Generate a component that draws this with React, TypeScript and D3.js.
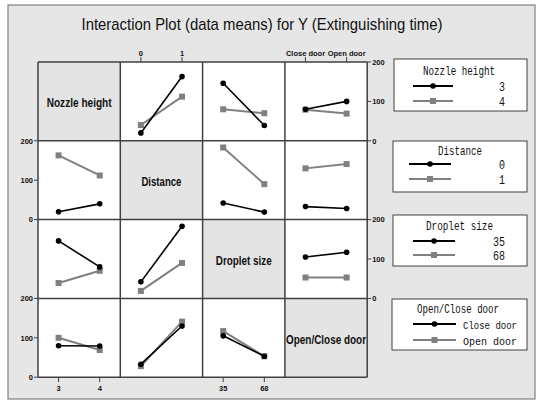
import React from "react";
import * as d3 from "d3";

const factorNames = ["Nozzle height", "Distance", "Droplet size", "Open/Close door"];
const nozzleLevels = ["3", "4"];
const distanceLevels = ["0", "1"];
const dropletLevels = ["35", "68"];
const doorLevels = ["Close door", "Open door"];
const doorLegendLabels = ["Close door", "Open  door"];

// means[a][b]: a = level of first factor, b = level of second factor
const nozzleByDistance = [[20, 163], [40, 112]];
const nozzleByDroplet = [[146, 39], [80, 70]];
const nozzleByDoor = [[80, 100], [79, 69]];
const distanceByDroplet = [[42, 19], [183, 90]];
const distanceByDoor = [[33, 28], [130, 141]];
const dropletByDoor = [[105, 117], [53, 53]];

const yTicks = [0, 100, 200];
const title = "Interaction Plot (data means) for Y (Extinguishing time)";

const levels = [nozzleLevels, distanceLevels, dropletLevels, doorLevels];
const legendLabels = [nozzleLevels, distanceLevels, dropletLevels, doorLegendLabels];
const pairs: Record<string, number[][]> = {
  "0-1": nozzleByDistance,
  "0-2": nozzleByDroplet,
  "0-3": nozzleByDoor,
  "1-2": distanceByDroplet,
  "1-3": distanceByDoor,
  "2-3": dropletByDoor,
};

function meanOf(i: number, j: number, a: number, b: number) {
  if (i < j) return pairs[`${i}-${j}`][a][b];
  return pairs[`${j}-${i}`][b][a];
}

const W = 538;
const H = 401;
const gridLeft = 38;
const gridTop = 62;
const cellW = 82.3;
const cellH = 78.8;
const BLACK = "#000";
const GRAY = "#808080";
const GRID = "#404040";

const panelLabelWidths = [65, 40, 56, 80];

const legends = [
  { x: 394, y: 59, w: 133, h: 52, titleX: 459, titleY: 75, titleW: 72, lineX: [413, 453], rows: [86, 101], labelX: 505, labelAnchor: "end" },
  { x: 393, y: 141, w: 134, h: 51, titleX: 460, titleY: 155, titleW: 44, lineX: [409, 451], rows: [164, 179], labelX: 505, labelAnchor: "end" },
  { x: 393, y: 215, w: 134, h: 51, titleX: 459.5, titleY: 230, titleW: 67, lineX: [413, 455], rows: [241, 255], labelX: 505, labelAnchor: "end" },
  { x: 392, y: 299, w: 135, h: 51, titleX: 458, titleY: 313, titleW: 82, lineX: [413, 456], rows: [324, 340], labelX: 463, labelAnchor: "start" },
];

export default function App() {
  const n = 4;
  const cellX = (j: number) => gridLeft + j * cellW;
  const cellY = (i: number) => gridTop + i * cellH;
  const xScale = (j: number) =>
    d3.scalePoint<string>().domain(levels[j]).range([cellX(j), cellX(j) + cellW]).padding(0.5);
  const yScale = (i: number) => d3.scaleLinear().domain([0, 200]).range([cellY(i) + cellH, cellY(i)]);
  const lineGen = d3.line<[number, number]>().x((d) => d[0]).y((d) => d[1]);
  const tickFont = { fontFamily: "Liberation Sans, Arial, sans-serif", fontWeight: 700, fontSize: 7.5 };
  const legendFont = { fontFamily: "Liberation Mono, DejaVu Sans Mono, monospace", fontSize: 13 };

  const panels: React.ReactNode[] = [];
  for (let i = 0; i < n; i++) {
    for (let j = 0; j < n; j++) {
      const x0 = cellX(j);
      const y0 = cellY(i);
      if (i === j) {
        panels.push(
          <g key={`p${i}${j}`}>
            <rect x={x0} y={y0} width={cellW} height={cellH} fill="#e4e4e4" />
            <text
              x={x0 + cellW / 2}
              y={y0 + cellH / 2 + 6}
              textAnchor="middle"
              fontFamily="Liberation Sans, Arial, sans-serif"
              fontWeight={700}
              fontSize={12}
              textLength={panelLabelWidths[i]}
              lengthAdjust="spacingAndGlyphs"
              fill="#111"
            >
              {factorNames[i]}
            </text>
          </g>
        );
        continue;
      }
      const xs = xScale(j);
      const ys = yScale(i);
      const series = [0, 1].map((a) =>
        levels[j].map((lv, b) => [xs(lv) as number, ys(meanOf(i, j, a, b))] as [number, number])
      );
      panels.push(
        <g key={`p${i}${j}`}>
          <rect x={x0} y={y0} width={cellW} height={cellH} fill="#fff" />
          <path d={lineGen(series[1]) || ""} stroke={GRAY} strokeWidth={2} fill="none" />
          {series[1].map((p, k) => (
            <rect key={`s${k}`} x={p[0] - 3} y={p[1] - 3} width={6} height={6} fill={GRAY} />
          ))}
          <path d={lineGen(series[0]) || ""} stroke={BLACK} strokeWidth={1.6} fill="none" />
          {series[0].map((p, k) => (
            <circle key={`c${k}`} cx={p[0]} cy={p[1]} r={2.8} fill={BLACK} />
          ))}
        </g>
      );
    }
  }

  const gridLines: React.ReactNode[] = [];
  for (let k = 0; k <= n; k++) {
    gridLines.push(
      <line key={`v${k}`} x1={cellX(k)} x2={cellX(k)} y1={gridTop} y2={gridTop + n * cellH} stroke={GRID} strokeWidth={1.5} />
    );
    gridLines.push(
      <line key={`h${k}`} x1={gridLeft} x2={gridLeft + n * cellW} y1={cellY(k)} y2={cellY(k)} stroke={GRID} strokeWidth={1.5} />
    );
  }

  const axes: React.ReactNode[] = [];
  for (let i = 0; i < n; i++) {
    const ys = yScale(i);
    const left = i % 2 === 1;
    const ax = left ? gridLeft : gridLeft + n * cellW;
    yTicks.forEach((t) => {
      const y = ys(t);
      axes.push(
        <g key={`y${i}-${t}`}>
          <line x1={ax} x2={left ? ax - 4 : ax + 4} y1={y} y2={y} stroke={GRID} strokeWidth={1} />
          <text
            x={left ? ax - 5 : ax + 5}
            y={y + 2.7}
            textAnchor={left ? "end" : "start"}
            {...tickFont}
            fill="#111"
          >
            {t}
          </text>
        </g>
      );
    });
  }
  for (let j = 0; j < n; j++) {
    const xs = xScale(j);
    const top = j % 2 === 1;
    const ay = top ? gridTop : gridTop + n * cellH;
    levels[j].forEach((lv) => {
      const x = xs(lv) as number;
      axes.push(
        <g key={`x${j}-${lv}`}>
          <line x1={x} x2={x} y1={ay} y2={top ? ay - 5 : ay + 5} stroke={GRID} strokeWidth={1} />
          <text x={x} y={top ? ay - 6.5 : ay + 13.5} textAnchor="middle" {...tickFont} fill="#111">
            {lv}
          </text>
        </g>
      );
    });
  }

  const legendNodes = legends.map((L, i) => (
    <g key={`L${i}`}>
      <rect x={L.x} y={L.y} width={L.w} height={L.h} fill="#fff" stroke={GRID} strokeWidth={1} />
      <text
        x={L.titleX}
        y={L.titleY}
        textAnchor="middle"
        {...legendFont}
        textLength={L.titleW}
        lengthAdjust="spacingAndGlyphs"
        fill="#111"
      >
        {factorNames[i]}
      </text>
      {[0, 1].map((a) => {
        const y = L.rows[a];
        const mx = (L.lineX[0] + L.lineX[1]) / 2;
        const lab = legendLabels[i][a];
        const long = lab.length > 2;
        return (
          <g key={`r${a}`}>
            <line x1={L.lineX[0]} x2={L.lineX[1]} y1={y} y2={y} stroke={a === 0 ? BLACK : GRAY} strokeWidth={a === 0 ? 1.8 : 2} />
            {a === 0 ? (
              <circle cx={mx} cy={y} r={2.8} fill={BLACK} />
            ) : (
              <rect x={mx - 3} y={y - 3} width={6} height={6} fill={GRAY} />
            )}
            <text
              x={L.labelX}
              y={y + 4.5}
              textAnchor={L.labelAnchor as any}
              fontFamily={legendFont.fontFamily}
              fontSize={long ? 11 : 13}
              textLength={long ? 54 : lab.length * 6}
              lengthAdjust="spacingAndGlyphs"
              fill="#111"
            >
              {lab}
            </text>
          </g>
        );
      })}
    </g>
  ));

  return (
    <div style={{ position: "absolute", left: 0, top: 0 }}>
      <svg width={W} height={H} viewBox={`0 0 ${W} ${H}`} style={{ display: "block" }}>
        <rect x={0} y={0} width={W} height={H} fill="#fff" />
        <rect x={8} y={5} width={527} height={394} fill="#e6e6e6" stroke="#808080" strokeWidth={1.2} />
        <text
          x={262}
          y={30}
          textAnchor="middle"
          fontFamily="Liberation Sans, Arial, sans-serif"
          fontSize={17}
          textLength={361}
          lengthAdjust="spacingAndGlyphs"
          fill="#111"
        >
          {title}
        </text>
        {panels}
        {gridLines}
        {axes}
        {legendNodes}
      </svg>
    </div>
  );
}
